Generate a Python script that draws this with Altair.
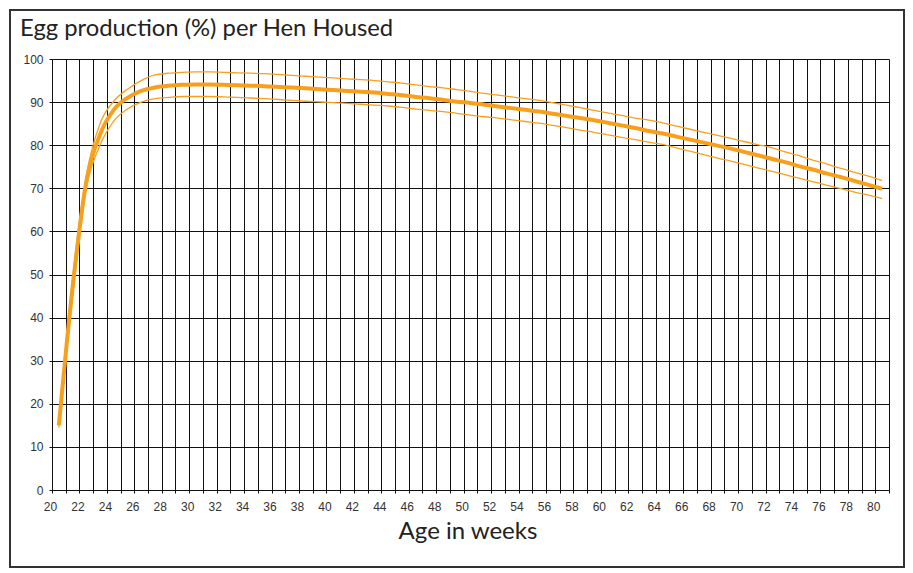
import altair as alt
import pandas as pd

# Age in weeks (each value is drawn at the centre of its week band)
weeks = list(range(20, 81))

# Standard (thick) curve, % hen-housed production
standard = [15.0, 47.0, 71.5, 82.5, 88.2, 91.0, 92.6, 93.4, 93.8, 94.0,
            94.1, 94.1, 94.0, 93.9, 93.8, 93.7, 93.5, 93.4, 93.2, 93.0,
            92.8, 92.6, 92.4, 92.2, 91.9, 91.6, 91.2, 90.9, 90.5, 90.1,
            89.8, 89.4, 89.0, 88.6, 88.2, 87.8, 87.3, 86.8, 86.3, 85.8,
            85.2, 84.6, 84.0, 83.3, 82.7, 82.0, 81.3, 80.6, 79.9, 79.2,
            78.4, 77.6, 76.8, 76.0, 75.1, 74.3, 73.4, 72.6, 71.7, 70.8,
            69.9]

# Upper band (thin)
upper = [15.5, 49.0, 73.0, 85.0, 90.2, 93.0, 95.0, 96.3, 96.7, 96.9,
         97.0, 97.0, 96.9, 96.8, 96.7, 96.6, 96.4, 96.2, 96.0, 95.8,
         95.6, 95.4, 95.2, 95.0, 94.7, 94.4, 94.0, 93.6, 93.3, 92.9,
         92.5, 92.0, 91.6, 91.2, 90.8, 90.4, 89.85, 89.3, 88.7, 88.1,
         87.5, 86.9, 86.3, 85.8, 85.2, 84.4, 83.7, 83.0, 82.3, 81.6,
         80.8, 80.1, 79.4, 78.4, 77.5, 76.5, 75.6, 74.6, 73.7, 72.8,
         71.8]

# Lower band (thin)
lower = [14.5, 45.0, 70.0, 80.0, 85.6, 88.4, 90.0, 90.8, 91.1, 91.3,
         91.3, 91.3, 91.2, 91.1, 90.95, 90.8, 90.6, 90.4, 90.2, 90.05,
         89.9, 89.7, 89.5, 89.3, 89.1, 88.8, 88.35, 88.1, 87.8, 87.4,
         87.0, 86.6, 86.3, 85.9, 85.5, 85.1, 84.6, 84.1, 83.5, 83.0,
         82.4, 81.8, 81.3, 80.7, 80.2, 79.4, 78.6, 77.8, 77.0, 76.3,
         75.5, 74.7, 73.9, 73.1, 72.3, 71.5, 70.7, 69.9, 69.1, 68.4,
         67.6]

x_ticks = list(range(20, 82))
y_ticks = list(range(0, 101, 10))
title_text = "Egg production (%) per Hen Housed"
x_title = "Age in weeks"

ORANGE = "#F8A01C"
GRID = "#111111"

rows = []
for name, vals in [("standard", standard), ("upper", upper), ("lower", lower)]:
    for w, v in zip(weeks, vals):
        rows.append({"week": w, "value": v, "series": name})
df = pd.DataFrame(rows)

x_enc = alt.X(
    "pos:Q",
    scale=alt.Scale(domain=[20, 81], nice=False, zero=False),
    axis=alt.Axis(
        values=x_ticks,
        labelExpr="datum.value % 2 == 0 && datum.value <= 80 ? datum.label : ''",
        grid=True, gridColor=GRID, gridWidth=1,
        domainColor=GRID, tickColor=GRID, tickSize=3,
        labelFont="Liberation Sans", labelFontSize=12, labelColor="#333333",
        labelPadding=8, labelOverlap=False, labelFlush=False, labelOffset=-2,
        title=None,
    ),
)
y_enc = alt.Y(
    "value:Q",
    scale=alt.Scale(domain=[0, 100], nice=False),
    axis=alt.Axis(
        values=y_ticks,
        grid=True, gridColor=GRID, gridWidth=1,
        domainColor=GRID, tickColor=GRID, tickSize=3,
        labelFont="Liberation Sans", labelFontSize=12, labelColor="#333333",
        labelPadding=6, labelOverlap=False, labelFlush=False,
        title=None,
    ),
)

base = alt.Chart(df).transform_calculate(pos="datum.week + 0.5")

bands = base.transform_filter("datum.series != 'standard'").mark_line(
    color=ORANGE, strokeWidth=1.3, interpolate="monotone"
).encode(x=x_enc, y=y_enc, detail="series:N")

main = base.transform_filter("datum.series == 'standard'").mark_line(
    color=ORANGE, strokeWidth=4, interpolate="monotone"
).encode(x=x_enc, y=y_enc)

title = alt.Chart(pd.DataFrame({"t": [title_text]})).mark_text(
    align="left", baseline="alphabetic", font="Lato", fontSize=23.8, color="#222222"
).encode(text="t:N", x=alt.value(-32), y=alt.value(-23))

xtitle = alt.Chart(pd.DataFrame({"t": [x_title]})).mark_text(
    align="center", baseline="alphabetic", font="Lato", fontSize=24, color="#222222"
).encode(text="t:N", x=alt.value(416), y=alt.value(480))

frame = alt.Chart(pd.DataFrame({"a": [0]})).mark_rect(
    filled=False, stroke="#333333", strokeWidth=2
).encode(x=alt.value(-42), x2=alt.value(852), y=alt.value(-49), y2=alt.value(508))

chart = alt.layer(frame, bands, main, title, xtitle).properties(
    width=837, height=431,
    autosize=alt.AutoSizeParams(type="none"),
    padding={"left": 44, "top": 51, "right": 16, "bottom": 78},
    background="white",
).configure_view(strokeWidth=0)

chart.save("out.html", embed_options={"renderer": "svg", "actions": False})
